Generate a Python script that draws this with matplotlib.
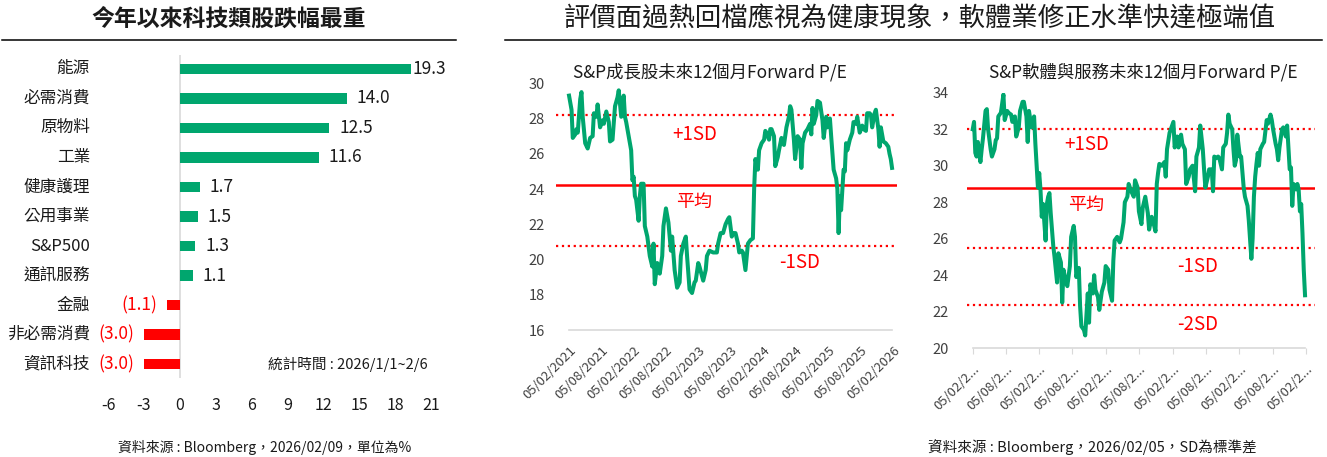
import pandas as pd
import matplotlib.pyplot as plt
from matplotlib.lines import Line2D

plt.rcParams['font.family'] = ['Noto Sans CJK TC', 'DejaVu Sans']

# ---- data ----
sectors = ["能源", "必需消費", "原物料", "工業", "健康護理", "公用事業",
           "S&P500", "通訊服務", "金融", "非必需消費", "資訊科技"]
ytd_return = [19.3, 14.0, 12.5, 11.6, 1.7, 1.5, 1.3, 1.1, -1.1, -3.0, -3.0]
bar_ticks = [-6, -3, 0, 3, 6, 9, 12, 15, 18, 21]

start_date = "2021-02-05"

# S&P growth forward P/E (weeks since start date, value)
growth_weeks = [0, 2, 3, 5, 6, 7, 9, 10, 11, 13,
                15, 17, 19, 20, 22, 23, 25, 27, 28, 30,
                32, 33, 35, 37, 39, 40, 42, 44, 45, 46,
                48, 50, 51, 52, 53, 54, 56, 57, 58, 60,
                61, 63, 65, 67, 68, 69, 71, 73, 75, 76,
                78, 80, 82, 83, 85, 87, 89, 90, 92, 94,
                95, 97, 99, 101, 102, 104, 105, 108, 110, 111,
                113, 116, 119, 120, 122, 124, 126, 128, 129, 131,
                132, 134, 136, 137, 139, 140, 142, 144, 146, 148,
                149, 150, 152, 153, 155, 157, 158, 159, 161, 162,
                163, 165, 166, 168, 169, 171, 173, 175, 177, 178,
                179, 181, 182, 184, 186, 187, 188, 190, 192, 194,
                195, 196, 197, 199, 200, 202, 204, 205, 207, 208,
                210, 211, 213, 215, 216, 217, 218, 219, 221, 222,
                223, 224, 226, 228, 229, 231, 232, 234, 236, 237,
                239, 240, 242, 243, 244, 246, 247, 249, 250, 251,
                253, 255, 257, 258, 259, 260]
growth_pe = [29.3, 28.5, 26.9, 27.1, 27.4, 27.2, 29.1, 29.5, 28.1, 26.6,
             26.3, 26.9, 27.0, 28.3, 28.1, 28.8, 27.5, 27.9, 27.7, 28.4,
             27.8, 26.7, 26.8, 28.7, 29.2, 29.6, 28.1, 29.3, 28.1, 27.8,
             27.0, 26.2, 24.5, 24.7, 23.6, 23.4, 22.2, 23.6, 24.3, 24.3,
             21.9, 21.3, 20.2, 19.6, 20.9, 18.6, 19.8, 19.2, 20.2, 21.9,
             22.9, 22.1, 20.5, 21.3, 19.4, 18.4, 18.7, 20.2, 20.9, 21.3,
             20.2, 18.3, 18.1, 18.7, 18.8, 19.8, 19.6, 18.8, 19.4, 20.2,
             20.5, 20.4, 20.4, 20.9, 21.5, 21.5, 22.0, 22.3, 22.4, 21.3,
             21.5, 21.5, 20.9, 20.4, 20.5, 20.4, 19.4, 20.9, 21.1, 21.2,
             24.0, 25.7, 25.1, 26.2, 26.6, 26.8, 27.3, 27.2, 26.8, 27.4,
             27.4, 27.0, 25.3, 25.8, 26.2, 26.9, 26.5, 27.5, 28.1, 28.7,
             28.5, 26.8, 25.7, 27.0, 26.8, 25.2, 26.6, 27.2, 27.4, 27.7,
             27.1, 28.6, 27.7, 28.2, 29.0, 28.9, 27.9, 26.9, 28.1, 27.5,
             28.0, 27.0, 25.1, 24.6, 24.0, 21.5, 23.6, 22.8, 25.1, 25.0,
             26.6, 26.2, 26.8, 27.2, 27.8, 27.7, 28.1, 27.2, 27.6, 27.4,
             27.3, 28.3, 28.3, 28.2, 27.5, 28.3, 28.5, 27.4, 26.4, 27.5,
             26.7, 26.6, 26.4, 26.0, 25.7, 25.2]
growth_mean, growth_up1, growth_dn1 = 24.23, 28.2, 20.77

# S&P software & services forward P/E
soft_weeks = [0, 1, 2, 3, 4, 6, 7, 8, 10, 11,
              12, 14, 15, 17, 18, 19, 20, 22, 24, 25,
              27, 28, 30, 31, 33, 34, 36, 37, 39, 40,
              42, 43, 44, 46, 48, 49, 50, 51, 52, 53,
              54, 55, 57, 58, 59, 60, 61, 63, 64, 66,
              67, 69, 70, 71, 73, 74, 76, 77, 79, 80,
              81, 83, 84, 85, 87, 88, 89, 90, 91, 92,
              94, 95, 96, 98, 99, 101, 103, 104, 106, 107,
              109, 110, 111, 113, 115, 116, 118, 119, 121, 122,
              124, 126, 127, 129, 130, 132, 133, 135, 137, 138,
              140, 141, 143, 144, 145, 146, 148, 150, 151, 152,
              154, 155, 157, 158, 160, 161, 163, 164, 166, 167,
              169, 170, 172, 174, 175, 177, 178, 180, 181, 182,
              184, 185, 187, 188, 189, 190, 192, 193, 195, 196,
              198, 199, 200, 201, 203, 204, 205, 206, 207, 209,
              210, 212, 213, 215, 216, 218, 219, 220, 221, 222,
              223, 224, 225, 227, 228, 230, 231, 233, 234, 235,
              237, 238, 239, 240, 242, 243, 245, 246, 247, 248,
              249, 250, 251, 253, 254, 255, 256, 257, 258, 259,
              260]
soft_pe = [32.0, 32.4, 30.7, 30.5, 31.3, 30.2, 30.9, 31.5, 33.0, 33.1,
           32.0, 30.9, 30.5, 30.9, 31.4, 31.5, 32.7, 32.9, 33.9, 32.5,
           33.0, 32.9, 32.8, 32.4, 32.7, 31.6, 32.1, 33.0, 33.5, 33.5,
           32.7, 31.3, 33.0, 32.1, 32.7, 31.2, 30.0, 28.8, 29.6, 28.7,
           27.2, 27.9, 25.9, 27.9, 28.3, 28.5, 27.4, 25.6, 25.0, 23.6,
           25.2, 24.7, 22.5, 24.3, 23.6, 23.4, 24.5, 26.1, 26.7, 26.1,
           23.9, 24.4, 22.3, 21.2, 21.0, 20.7, 21.9, 23.0, 21.4, 23.5,
           23.0, 24.0, 23.2, 22.8, 22.1, 23.1, 23.6, 24.5, 24.3, 23.2,
           22.6, 24.8, 25.9, 26.1, 25.8, 26.0, 26.9, 28.0, 28.3, 29.0,
           28.6, 28.3, 29.2, 28.8, 27.5, 26.8, 27.7, 28.3, 27.4, 26.5,
           27.2, 27.0, 26.4, 29.0, 29.6, 30.1, 30.0, 30.2, 29.4, 30.9,
           31.8, 32.0, 32.4, 31.0, 31.6, 31.0, 31.7, 31.2, 30.9, 29.0,
           29.4, 29.8, 30.0, 28.6, 30.5, 31.0, 32.2, 30.9, 29.8, 28.8,
           29.4, 29.8, 29.8, 28.6, 30.5, 30.4, 30.5, 30.4, 29.8, 31.0,
           31.2, 31.8, 32.8, 32.3, 32.0, 30.9, 30.0, 30.3, 31.7, 30.5,
           30.5, 28.8, 28.3, 27.8, 27.0, 24.9, 26.0, 28.3, 29.4, 30.1,
           30.7, 30.0, 30.9, 31.2, 31.3, 32.5, 32.3, 32.8, 32.5, 32.0,
           31.2, 30.9, 30.3, 31.0, 32.0, 32.1, 31.6, 32.2, 31.0, 29.8,
           29.9, 27.8, 29.0, 28.7, 29.0, 28.7, 27.5, 27.9, 26.3, 24.3,
           22.9]
soft_mean, soft_up1, soft_dn1, soft_dn2 = 28.8, 32.0, 25.5, 22.35

GREEN = "#00A66E"
RED = "#FF0000"
GREY_TXT = "#404040"

W, H = 1327, 457
fig = plt.figure(figsize=(W / 100, H / 100), dpi=100)


def px_axes(left, top, right, bottom):
    return fig.add_axes([left / W, 1 - bottom / H, (right - left) / W, (bottom - top) / H])


def px_text(x, y, s, **kw):
    fig.text(x / W, 1 - y / H, s, **kw)


def px_hline(x0, x1, y):
    fig.add_artist(Line2D([x0 / W, x1 / W], [1 - y / H, 1 - y / H], color="black", lw=1.1))


# ---- titles ----
px_text(229, 19, "今年以來科技類股跌幅最重", ha="center", va="center",
        fontsize=16.5, fontweight="bold", color="#1a1a1a")
px_hline(2, 456, 40)
px_text(920, 19, "評價面過熱回檔應視為健康現象，軟體業修正水準快達極端值",
        ha="center", va="center", fontsize=19, color="#1a1a1a")
px_hline(505, 1322, 40)

# ---- bar chart ----
axb = px_axes(108, 55, 431, 378)
pos = list(range(len(sectors)))
colors = [GREEN if v >= 0 else RED for v in ytd_return]
axb.barh(pos, ytd_return, height=0.36, color=colors)
axb.set_xlim(-6, 21)
axb.set_ylim(len(sectors) - 0.53, -0.47)
axb.axvline(0, color="#d9d9d9", lw=1.2, zorder=0)
for s in axb.spines.values():
    s.set_visible(False)
axb.set_xticks(bar_ticks)
axb.set_xticklabels([str(t) for t in bar_ticks])
axb.tick_params(axis="x", length=0, pad=14, labelsize=11.5, labelcolor="#1a1a1a")
axb.set_yticks([])
for i, (name, v) in enumerate(zip(sectors, ytd_return)):
    # category names right-aligned at x = 90 px
    axb.annotate(name, (0, i), xycoords=("figure fraction", "data"),
                 xytext=(90 * 0.72, 0), textcoords="offset points",
                 ha="right", va="center", fontsize=12, color="#1a1a1a")
    if v >= 0:
        off = 1 if v > 18 else 7
        axb.annotate(f"{v:.1f}", (v, i), xytext=(off, 0), textcoords="offset points",
                     ha="left", va="center", fontsize=12.5, color="#1a1a1a")
    else:
        axb.annotate(f"({abs(v):.1f})", (v, i), xytext=(-7, 0), textcoords="offset points",
                     ha="right", va="center", fontsize=12.5, color=RED)
px_text(348, 364, "統計時間 : 2026/1/1~2/6", ha="center", va="center",
        fontsize=10.5, color="#1a1a1a")
px_text(265, 447, "資料來源 : Bloomberg，2026/02/09，單位為%", ha="center", va="center",
        fontsize=10, color="#1a1a1a")

# ---- line charts ----
t0 = pd.Timestamp(start_date)
tick_dates = []
for yr in range(2021, 2027):
    tick_dates.append(pd.Timestamp(yr, 2, 5))
    if yr < 2026:
        tick_dates.append(pd.Timestamp(yr, 8, 5))
tick_text = [d.strftime("%d/%m/%Y") for d in tick_dates]


def week_dates(weeks):
    return [t0 + pd.Timedelta(days=7 * w) for w in weeks]


def line_panel(rect, weeks, values, ylim, yticks, xl, xr, levels, short_labels,
               ypad, ticklen, xpad):
    ax = px_axes(*rect)
    dates = week_dates(weeks)
    for lvl, style, lw in levels:
        ax.axhline(lvl, color=RED, ls=style, lw=lw, zorder=1)
    ax.plot(dates, values, color=GREEN, lw=2.9, solid_joinstyle="round", zorder=3)
    ax.plot([dates[0], dates[-1]], [ylim[0], ylim[0]], color="#d9d9d9", lw=1.2,
            clip_on=False, zorder=2)
    ax.set_xlim(t0 + pd.Timedelta(days=7 * xl), t0 + pd.Timedelta(days=7 * xr))
    ax.set_ylim(*ylim)
    for s in ax.spines.values():
        s.set_visible(False)
    ax.set_yticks(yticks)
    ax.tick_params(axis="y", length=0, pad=ypad, labelsize=10.5, labelcolor=GREY_TXT)
    ax.set_xticks(tick_dates)
    labels = [t[:7] + "..." for t in tick_text] if short_labels else tick_text
    ax.set_xticklabels(labels, rotation=45, ha="right", rotation_mode="anchor")
    ax.tick_params(axis="x", length=ticklen, color="#d9d9d9", pad=xpad,
                   labelsize=9.5, labelcolor=GREY_TXT)
    return ax


ax1 = line_panel((556, 83.3, 897, 330), growth_weeks, growth_pe, (16, 30),
                 list(range(16, 31, 2)), -10.5, 264,
                 [(growth_up1, ":", 1.6), (growth_mean, "-", 1.8), (growth_dn1, ":", 1.6)],
                 False, 8, 0, 10)
px_text(710, 72, "S&P成長股未來12個月Forward P/E", ha="center", va="center",
        fontsize=12.5, color="#1a1a1a")
px_text(695, 134, "+1SD", ha="center", va="center", fontsize=13.5, color=RED)
px_text(694, 202, "平均", ha="center", va="center", fontsize=13, color=RED)
px_text(800, 263, "-1SD", ha="center", va="center", fontsize=13.5, color=RED)

ax2 = line_panel((967, 92.7, 1315, 348.2), soft_weeks, soft_pe, (20, 34),
                 list(range(20, 35, 2)), -4.5, 267.8,
                 [(soft_up1, ":", 1.6), (soft_mean, "-", 1.8), (soft_dn1, ":", 1.6),
                  (soft_dn2, ":", 1.6)],
                 True, 13, 4, 6)
px_text(1143, 72, "S&P軟體與服務未來12個月Forward P/E", ha="center", va="center",
        fontsize=12.5, color="#1a1a1a")
px_text(1087, 145, "+1SD", ha="center", va="center", fontsize=13.5, color=RED)
px_text(1086, 205, "平均", ha="center", va="center", fontsize=13, color=RED)
px_text(1198, 267, "-1SD", ha="center", va="center", fontsize=13.5, color=RED)
px_text(1198, 325, "-2SD", ha="center", va="center", fontsize=13.5, color=RED)
px_text(1092, 447, "資料來源 : Bloomberg，2026/02/05，SD為標準差", ha="center", va="center",
        fontsize=10.5, color="#1a1a1a")

fig.savefig("out.png", dpi=100)
